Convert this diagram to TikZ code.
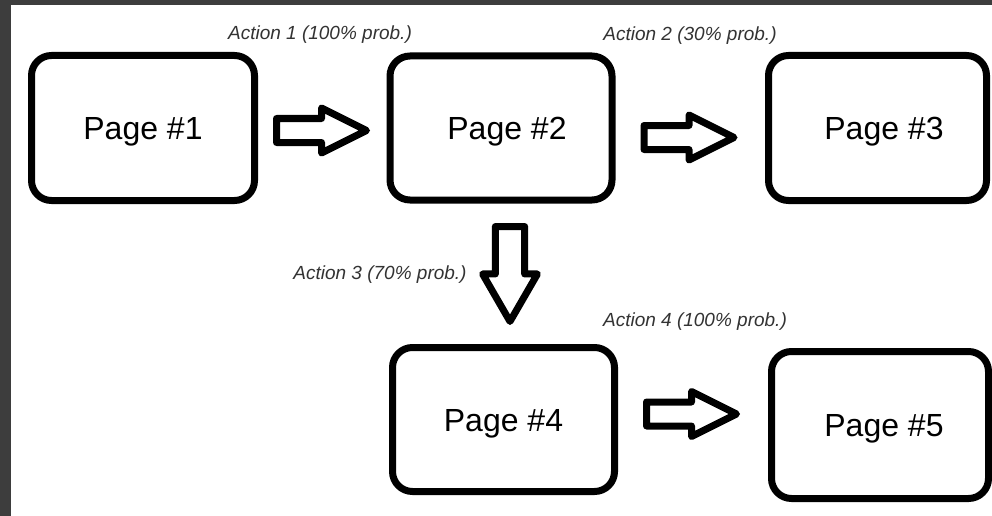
\documentclass[tikz,border=0pt]{standalone}
\usepackage{fontspec}
\setmainfont{Liberation Sans}
\usetikzlibrary{calc}
\definecolor{framegray}{HTML}{3D3D3D}
\definecolor{labelgray}{HTML}{333333}
\begin{document}
\begin{tikzpicture}[x=1pt,y=-1pt,
  page/.style={draw=black, line width=7pt, rounded corners=20pt, fill=white,
    font=\fontsize{32}{32}\selectfont, text height=23pt, text depth=0pt, inner sep=0pt},
  actlabel/.style={font=\fontsize{19}{19}\selectfont\itshape, text=labelgray, inner sep=0pt},
  blockarrow/.pic={
    \draw[line width=7pt, line join=round, fill=white]
      (0,-12) -- (45,-12) -- (45,-22.5) -- (90,0) -- (45,22.5) -- (45,12) -- (0,12) -- cycle;
  }
]
% window frame and canvas
\fill[framegray] (0,0) rectangle (992,516);
\fill[white] (11,5) rectangle (992,516);
\useasboundingbox (0,0) rectangle (992,516);

% pages (leading space nudges the caption slightly right where needed)
\node[page, minimum width=223pt, minimum height=145pt] (p1) at (143,128)   {Page \#1};
\node[page, minimum width=222pt, minimum height=144pt] (p2) at (501,128)   {\hspace*{12pt}Page \#2};
\node[page, minimum width=218pt, minimum height=145pt] (p3) at (877.5,128) {\hspace*{13pt}Page \#3};
\node[page, minimum width=222pt, minimum height=144pt] (p4) at (503.5,419.5) {Page \#4};
\node[page, minimum width=217pt, minimum height=147pt] (p5) at (880,425)   {\hspace*{8pt}Page \#5};

% block arrows between pages
\pic at ($(p1.east)+(18.5,2.5)$) {blockarrow};
\pic at ($(p2.east)+(28.5,9.5)$) {blockarrow};
\pic[rotate=-90, xscale=1.055, yscale=1.22] at ($(p2.south)+(9,23)$) {blockarrow};
\pic at ($(p4.east)+(28.5,-5.5)$) {blockarrow};

% action labels
\node[actlabel] (l1) at (320,34.5)  {Action 1 (100\% prob.)};
\node[actlabel] (l2) at (690,35.5)  {Action 2 (30\% prob.)};
\node[actlabel] (l3) at (380,274.5) {Action 3 (70\% prob.)};
\node[actlabel] (l4) at (695,321.5) {Action 4 (100\% prob.)};
\end{tikzpicture}
\end{document}
